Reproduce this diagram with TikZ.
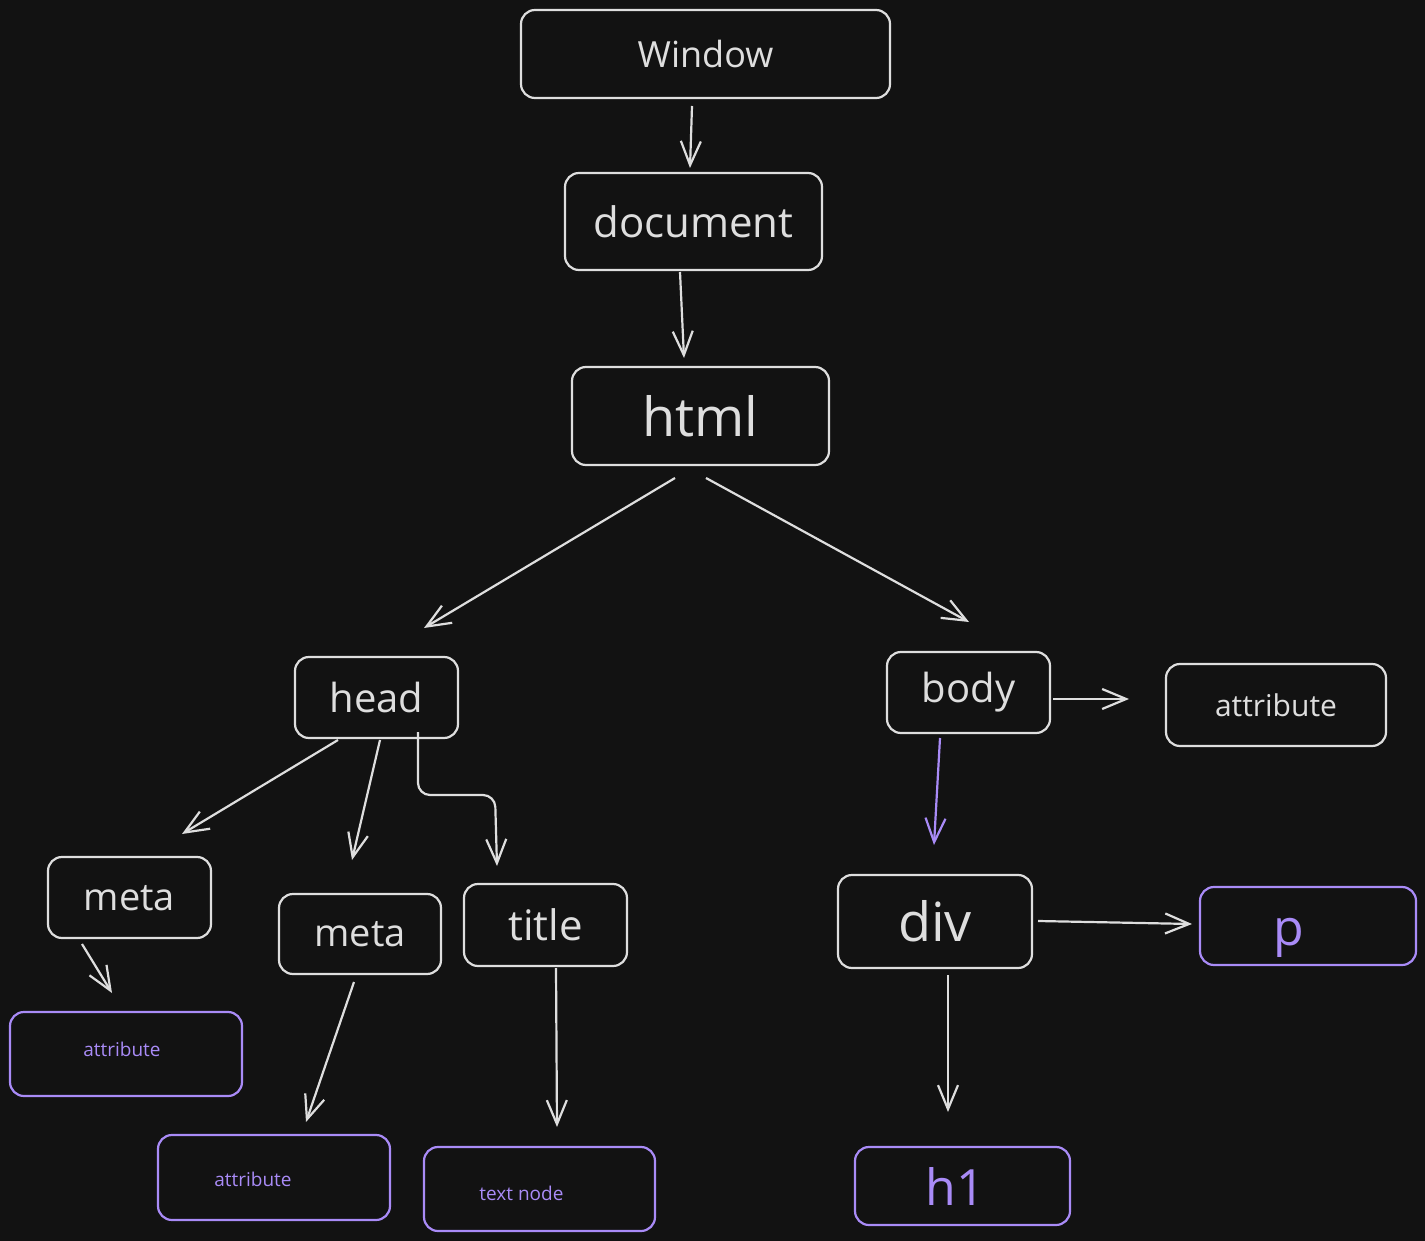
\documentclass[tikz,border=0pt]{standalone}
\usepackage{fontspec}
\setmainfont{Open Sans}
\usetikzlibrary{arrows.meta,calc}
\definecolor{bg}{HTML}{121212}
\definecolor{fg}{HTML}{DEDEDE}
\definecolor{vio}{HTML}{A98BF7}
\tikzset{
  box/.style={draw=fg, line width=2.2pt, rounded corners=14pt, inner sep=0pt, outer sep=0pt, text=fg},
  vbox/.style={draw=vio, line width=2.2pt, rounded corners=14pt, inner sep=0pt, outer sep=0pt, text=vio},
  arr/.style={draw=fg, line width=2.2pt, -{Straight Barb[length=24pt,width=20pt,line width=2.2pt]}},
  varr/.style={arr, draw=vio},
}
\newcommand{\fs}[1]{\fontsize{#1}{#1}\selectfont}
\begin{document}
\begin{tikzpicture}[x=1pt,y=-1pt]
\fill[bg] (0,0) rectangle (1425,1241);
\useasboundingbox (0,0) rectangle (1425,1241);

\node[box, minimum width=369pt, minimum height=88pt, font=\fs{36}] (win) at (705.5,54) {Window};
\node[box, minimum width=257pt, minimum height=97pt, font=\fs{42}] (doc) at (693.5,221.5) {document};
\node[box, minimum width=257pt, minimum height=98pt, font=\fs{54}] (html) at (700.5,416) {html};
\node[box, minimum width=163pt, minimum height=81pt, font=\fs{40}] (head) at (376.5,697.5) {head};
\node[box, minimum width=163pt, minimum height=81pt, font=\fs{40}] (body) at (968.5,692.5) {body};
\node[box, minimum width=220pt, minimum height=82pt, font=\fs{30}] (attr) at (1276,705) {attribute};
\node[box, minimum width=163pt, minimum height=81pt, font=\fs{38},
  text depth=-4pt] (meta1) at (129.5,897.5) {meta};
\node[box, minimum width=162pt, minimum height=80pt, font=\fs{38},
  text depth=-4pt] (meta2) at (360,934) {meta};
\node[box, minimum width=163pt, minimum height=82pt, font=\fs{42}] (title) at (545.5,925) {title};
\node[box, minimum width=194pt, minimum height=93pt, font=\fs{54}] (div) at (935,921.5) {div};
\node[vbox, minimum width=216pt, minimum height=78pt,
  label={[text=vio, font=\fs{50}, xshift=-19pt, yshift=-12pt]center:p}] (p) at (1308,926) {};
\node[vbox, minimum width=232pt, minimum height=84pt,
  label={[text=vio, font=\fs{19}, xshift=-4pt, yshift=5pt]center:attribute}] (a1) at (126,1054) {};
\node[vbox, minimum width=232pt, minimum height=85pt,
  label={[text=vio, font=\fs{19}, xshift=-21pt, yshift=-2pt]center:attribute}] (a2) at (274,1177.5) {};
\node[vbox, minimum width=231pt, minimum height=84pt,
  label={[text=vio, font=\fs{19}, xshift=-18pt, yshift=-4pt]center:text node}] (tn) at (539.5,1189) {};
\node[vbox, minimum width=215pt, minimum height=78pt,
  label={[text=vio, font=\fs{50}, xshift=-7pt, yshift=0pt]center:h1}] (h1) at (962.5,1186) {};

\draw[arr] ($(win.south)+(-13.5,8)$) -- ($(doc.north)+(-3.5,-5)$);
\draw[arr] ($(doc.south)+(-13.5,2)$) -- ($(html.north)+(-16.5,-9)$);
\draw[arr] ($(html.south)+(-25.5,13)$) -- ($(head.north)+(47.5,-29)$);
\draw[arr] ($(html.south)+(5.5,13)$) -- ($(body.north)+(0.5,-30)$);
\draw[arr] ($(head.south)+(-38.5,2)$) -- ($(meta1.north)+(52.5,-23)$);
\draw[arr] ($(head.south)+(3.5,2)$) -- ($(meta2.north)+(-8,-34)$);
\draw[arr, rounded corners=12pt] ($(head.south)+(41.5,-6)$) -- ($(head.south)+(41.5,57)$) -- ($(title.north)+(-50.5,-89)$) -- ($(title.north)+(-48.5,-18)$);
\draw[arr] ($(body.east)+(3,6.5)$) -- ($(attr.west)+(-37,-6)$);
\draw[varr] ($(body.south)+(-28.5,5)$) -- ($(div.north)+(-1,-30)$);
\draw[arr] ($(meta1.south)+(-47.5,6)$) -- ($(a1.north)+(-14,-19)$);
\draw[arr] ($(meta2.south)+(-6,8)$) -- ($(a2.north)+(32,-13)$);
\draw[arr] ($(title.south)+(10.5,2)$) -- ($(tn.north)+(17.5,-20)$);
\draw[arr] ($(div.east)+(6,-0.5)$) -- ($(p.west)+(-8,-2)$);
\draw[arr] ($(div.south)+(13,7)$) -- ($(h1.north)+(-14.5,-35)$);
\end{tikzpicture}
\end{document}
